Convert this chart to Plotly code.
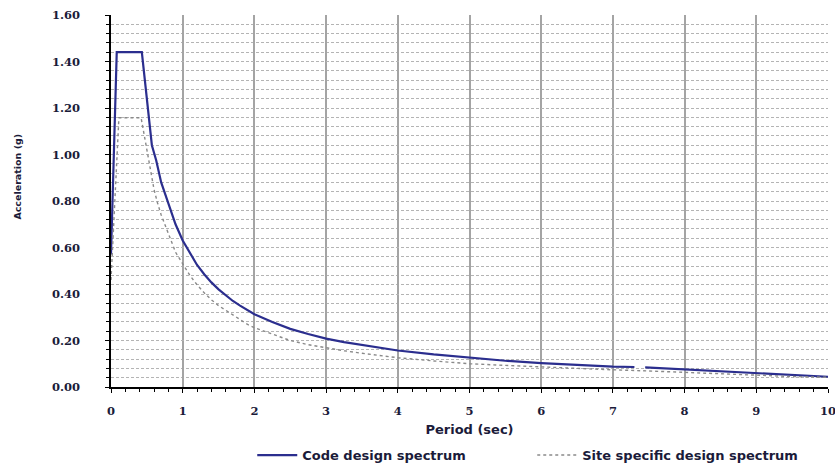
import plotly.graph_objects as go

# Code design spectrum (period in sec, acceleration in g)
code_period = [0, 0.08, 0.43, 0.57, 0.63, 0.7, 0.8, 0.9, 1.0, 1.1, 1.2, 1.3, 1.4, 1.5, 1.6, 1.7,
               1.8, 1.9, 2.0, 2.25, 2.5, 2.75, 3.0, 3.25, 3.5, 3.75,
               4.0, 4.5, 5.0, 5.5, 6.0, 6.5, 7.0, 7.3, None, 7.45, 8.0, 8.5, 9.0, 9.5, 10.0]
code_accel = [0.57, 1.44, 1.44, 1.04, 0.975, 0.88, 0.79, 0.70, 0.63, 0.575, 0.525, 0.485, 0.45,
              0.42, 0.395, 0.37, 0.35, 0.332, 0.313, 0.28, 0.25, 0.228, 0.208, 0.193, 0.18, 0.168,
              0.157, 0.14, 0.125, 0.113, 0.103, 0.095, 0.088, 0.086, None, 0.084,
              0.076, 0.068, 0.059, 0.051, 0.044]

# Site specific design spectrum
site_period = [0, 0.11, 0.42, 0.47, 0.55, 0.6, 0.65, 0.7, 0.8, 0.9, 1.0, 1.1, 1.2, 1.3, 1.4, 1.5,
               1.6, 1.7, 1.8, 1.9, 2.0, 2.25, 2.5, 2.75, 3.0, 3.25, 3.5, 3.75, 4.0, 4.5, 5.0, 5.5,
               6.0, 6.5, 7.0, 7.5, 8.0, 8.5, 9.0, 9.5, 10.0]
site_accel = [0.46, 1.158, 1.158, 1.07, 0.93, 0.85, 0.79, 0.74, 0.66, 0.58, 0.53, 0.48, 0.44,
              0.405, 0.375, 0.35, 0.33, 0.31, 0.29, 0.27, 0.255, 0.226, 0.2, 0.182, 0.168, 0.156,
              0.145, 0.135, 0.126, 0.112, 0.100, 0.093, 0.086, 0.080, 0.074,
              0.069, 0.063, 0.057, 0.050, 0.045, 0.042]

x_ticks = list(range(0, 11))
y_ticks = [0.0, 0.2, 0.4, 0.6, 0.8, 1.0, 1.2, 1.4, 1.6]
y_tick_labels = ["%.2f" % v for v in y_ticks]

navy = "#2B2E8E"
txt = "#1B1B3A"
tick_font = dict(family="DejaVu Serif", size=11.5, color=txt, weight="bold")
label_font = dict(family="DejaVu Sans", size=13, color=txt, weight="bold")
grid_c = "#B4B4B4"

fig = go.Figure()
fig.add_trace(go.Scatter(x=code_period, y=code_accel, mode="lines", name="Code design spectrum",
                         line=dict(color=navy, width=2.2), connectgaps=False))
fig.add_trace(go.Scatter(x=site_period, y=site_accel, mode="lines", name="Site specific design spectrum",
                         line=dict(color="#8A8A8A", width=1.4, dash="dot")))

fig.update_xaxes(range=[0, 10], tickvals=x_ticks, ticktext=[str(v) for v in x_ticks],
                 showline=True, linecolor="black", linewidth=1.5, mirror=False,
                 ticks="outside", ticklen=4, tickcolor="black", tickwidth=1,
                 showgrid=True, gridcolor="#A4A4A4", gridwidth=1.6,
                 minor=dict(dtick=0.2, ticks="outside", ticklen=3, tickcolor="black", showgrid=False),
                 tickfont=tick_font, ticklabelstandoff=8, zeroline=False, automargin=False,
                 ticklabeloverflow="allow",
                 title=dict(text="Period (sec)", font=label_font, standoff=8))
fig.update_yaxes(range=[0, 1.6], tickvals=y_ticks, ticktext=y_tick_labels,
                 showline=True, linecolor="black", linewidth=1.5,
                 ticks="outside", ticklen=4, tickcolor="black", tickwidth=1,
                 showgrid=True, gridcolor=grid_c, gridwidth=1, griddash="3px,2px",
                 minor=dict(dtick=0.04, ticks="outside", ticklen=3, tickcolor="black",
                            showgrid=True, gridcolor=grid_c, gridwidth=1, griddash="3px,2px"),
                 tickfont=tick_font, ticklabelstandoff=23, zeroline=False, automargin=False)

fig.add_annotation(text="Acceleration (g)", xref="paper", yref="paper", x=-0.13, y=0.565,
                   xanchor="center", yanchor="middle",
                   textangle=-90, showarrow=False,
                   font=dict(family="DejaVu Sans", size=9.5, color=txt, weight="bold"))

fig.update_layout(width=835, height=466, paper_bgcolor="white", plot_bgcolor="white",
                  margin=dict(l=111, r=7, t=15, b=79, autoexpand=False),
                  showlegend=True,
                  legend=dict(orientation="h", x=0.197, xanchor="left", y=-0.183, yanchor="middle",
                              font=label_font, itemwidth=40, entrywidth=225,
                              bgcolor="rgba(0,0,0,0)"))

fig.write_html("out.html", config={"displayModeBar": False},
               post_script="document.body.style.margin='0';document.body.style.overflow='hidden';")
